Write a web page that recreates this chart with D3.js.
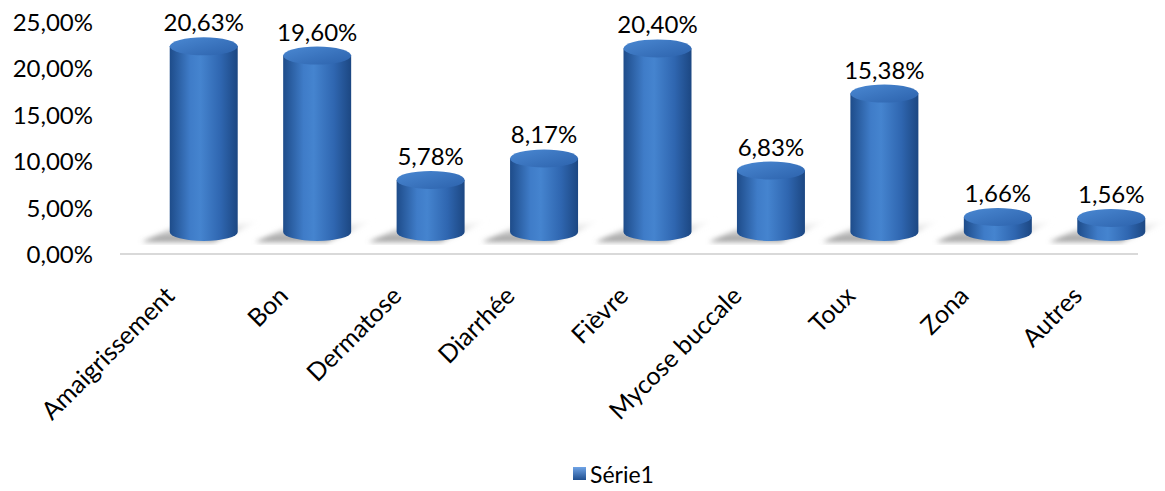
<!DOCTYPE html>
<html><head><meta charset="utf-8">
<script src="https://cdn.jsdelivr.net/npm/d3@7"></script>
<style>body{margin:0;background:#fff}svg{display:block}text{font-family:Lato,"Open Sans",sans-serif;fill:#000}</style>
</head><body><svg id="c" width="1165" height="491"></svg>
<script>
const categories = ["Amaigrissement","Bon","Dermatose","Diarrhée","Fièvre","Mycose buccale","Toux","Zona","Autres"];
const values = [20.63,19.60,5.78,8.17,20.40,6.83,15.38,1.66,1.56];
const valueLabels = ["20,63%","19,60%","5,78%","8,17%","20,40%","6,83%","15,38%","1,66%","1,56%"];
const yTicks = [0,5,10,15,20,25];
const yTickLabels = ["0,00%","5,00%","10,00%","15,00%","20,00%","25,00%"];
const seriesName = "Série1";

const svg = d3.select("#c");
const defs = svg.append("defs");
const gBody = defs.append("linearGradient").attr("id","body").attr("x1","0").attr("x2","1");
[[0,"#1e4c8a"],[0.3,"#3f7cc8"],[0.45,"#4584cf"],[0.75,"#2f66b0"],[1,"#1c4782"]].forEach(s=>gBody.append("stop").attr("offset",s[0]).attr("stop-color",s[1]));
const gTop = defs.append("linearGradient").attr("id","top").attr("x1","0").attr("x2","1").attr("y1","0").attr("y2","1");
[[0,"#4a88d2"],[1,"#2c62ac"]].forEach(s=>gTop.append("stop").attr("offset",s[0]).attr("stop-color",s[1]));
const gSh = defs.append("linearGradient").attr("id","sh").attr("x1","0").attr("x2","0").attr("y1","0").attr("y2","1");
[[0,"#ffffff",0],[0.5,"#bdbdbd",0.7],[1,"#8f8f8f",0.95]].forEach(s=>gSh.append("stop").attr("offset",s[0]).attr("stop-color",s[1]).attr("stop-opacity",s[2]));
defs.append("filter").attr("id","blur").append("feGaussianBlur").attr("stdDeviation",2.5);
const gLeg = defs.append("linearGradient").attr("id","leg").attr("x1","0").attr("x2","0").attr("y1","0").attr("y2","1");
[[0,"#6fa3e6"],[1,"#1f4f8f"]].forEach(s=>gLeg.append("stop").attr("offset",s[0]).attr("stop-color",s[1]));

// axis scale
const y = d3.scaleLinear().domain([0,25]).range([254,22]);
// 3D bar scale (back plane projected)
const yBar = d3.scaleLinear().domain([0,25]).range([232,7]);
const x = d3.scaleBand().domain(categories).range([147,1168]).paddingInner(0).paddingOuter(0);
const rx = 34, ry = 9;

// y axis labels
const yAxis = d3.axisLeft(y).tickValues(yTicks).tickFormat((d,i)=>yTickLabels[i]).tickSize(0).tickPadding(0);
const ya = svg.append("g").attr("transform","translate(93,0)").call(yAxis);
ya.select(".domain").remove();
ya.selectAll("text").style("font-size","24px").attr("font-family","Lato").attr("dy","0.35em").attr("fill","#000");

// floor line
svg.append("line").attr("x1",120).attr("x2",1138).attr("y1",254).attr("y2",254).attr("stroke","#d9d9d9").attr("stroke-width",2);

// shadows
const bars = svg.append("g").selectAll("g").data(categories).join("g");
bars.each(function(c,i){
  const cx = x(c)+x.bandwidth()/2;
  const g = d3.select(this);
  const b = yBar(0);
  g.append("path").attr("d",`M${cx-62},${b+10} L${cx+10},${b+10} L${cx+60},${b-13} L${cx-12},${b-13} Z`)
    .attr("fill","url(#sh)").attr("filter","url(#blur)");
});
// cylinders
bars.each(function(c,i){
  const cx = x(c)+x.bandwidth()/2;
  const g = d3.select(this);
  const b = yBar(0), t = yBar(values[i]);
  g.append("path").attr("d",`M${cx-rx},${t} L${cx-rx},${b} A${rx},${ry} 0 0 0 ${cx+rx},${b} L${cx+rx},${t} Z`).attr("fill","url(#body)");
  g.append("ellipse").attr("cx",cx).attr("cy",t).attr("rx",rx).attr("ry",ry).attr("fill","url(#top)");
  g.append("text").attr("x",cx).attr("y",t-ry-6).attr("text-anchor","middle").style("font-size","24px").text(valueLabels[i]);
});

// x labels
svg.append("g").selectAll("text").data(categories).join("text")
  .attr("transform",c=>`translate(${x(c)+x.bandwidth()/2-40},${285}) rotate(-45)`)
  .attr("text-anchor","end").attr("dy","0.7em").style("font-size","25px").text(d=>d);

// legend
svg.append("rect").attr("x",573).attr("y",467).attr("width",13).attr("height",13).attr("fill","url(#leg)");
svg.append("text").attr("x",590).attr("y",483).style("font-size","23px").text(seriesName);
</script></body></html>
